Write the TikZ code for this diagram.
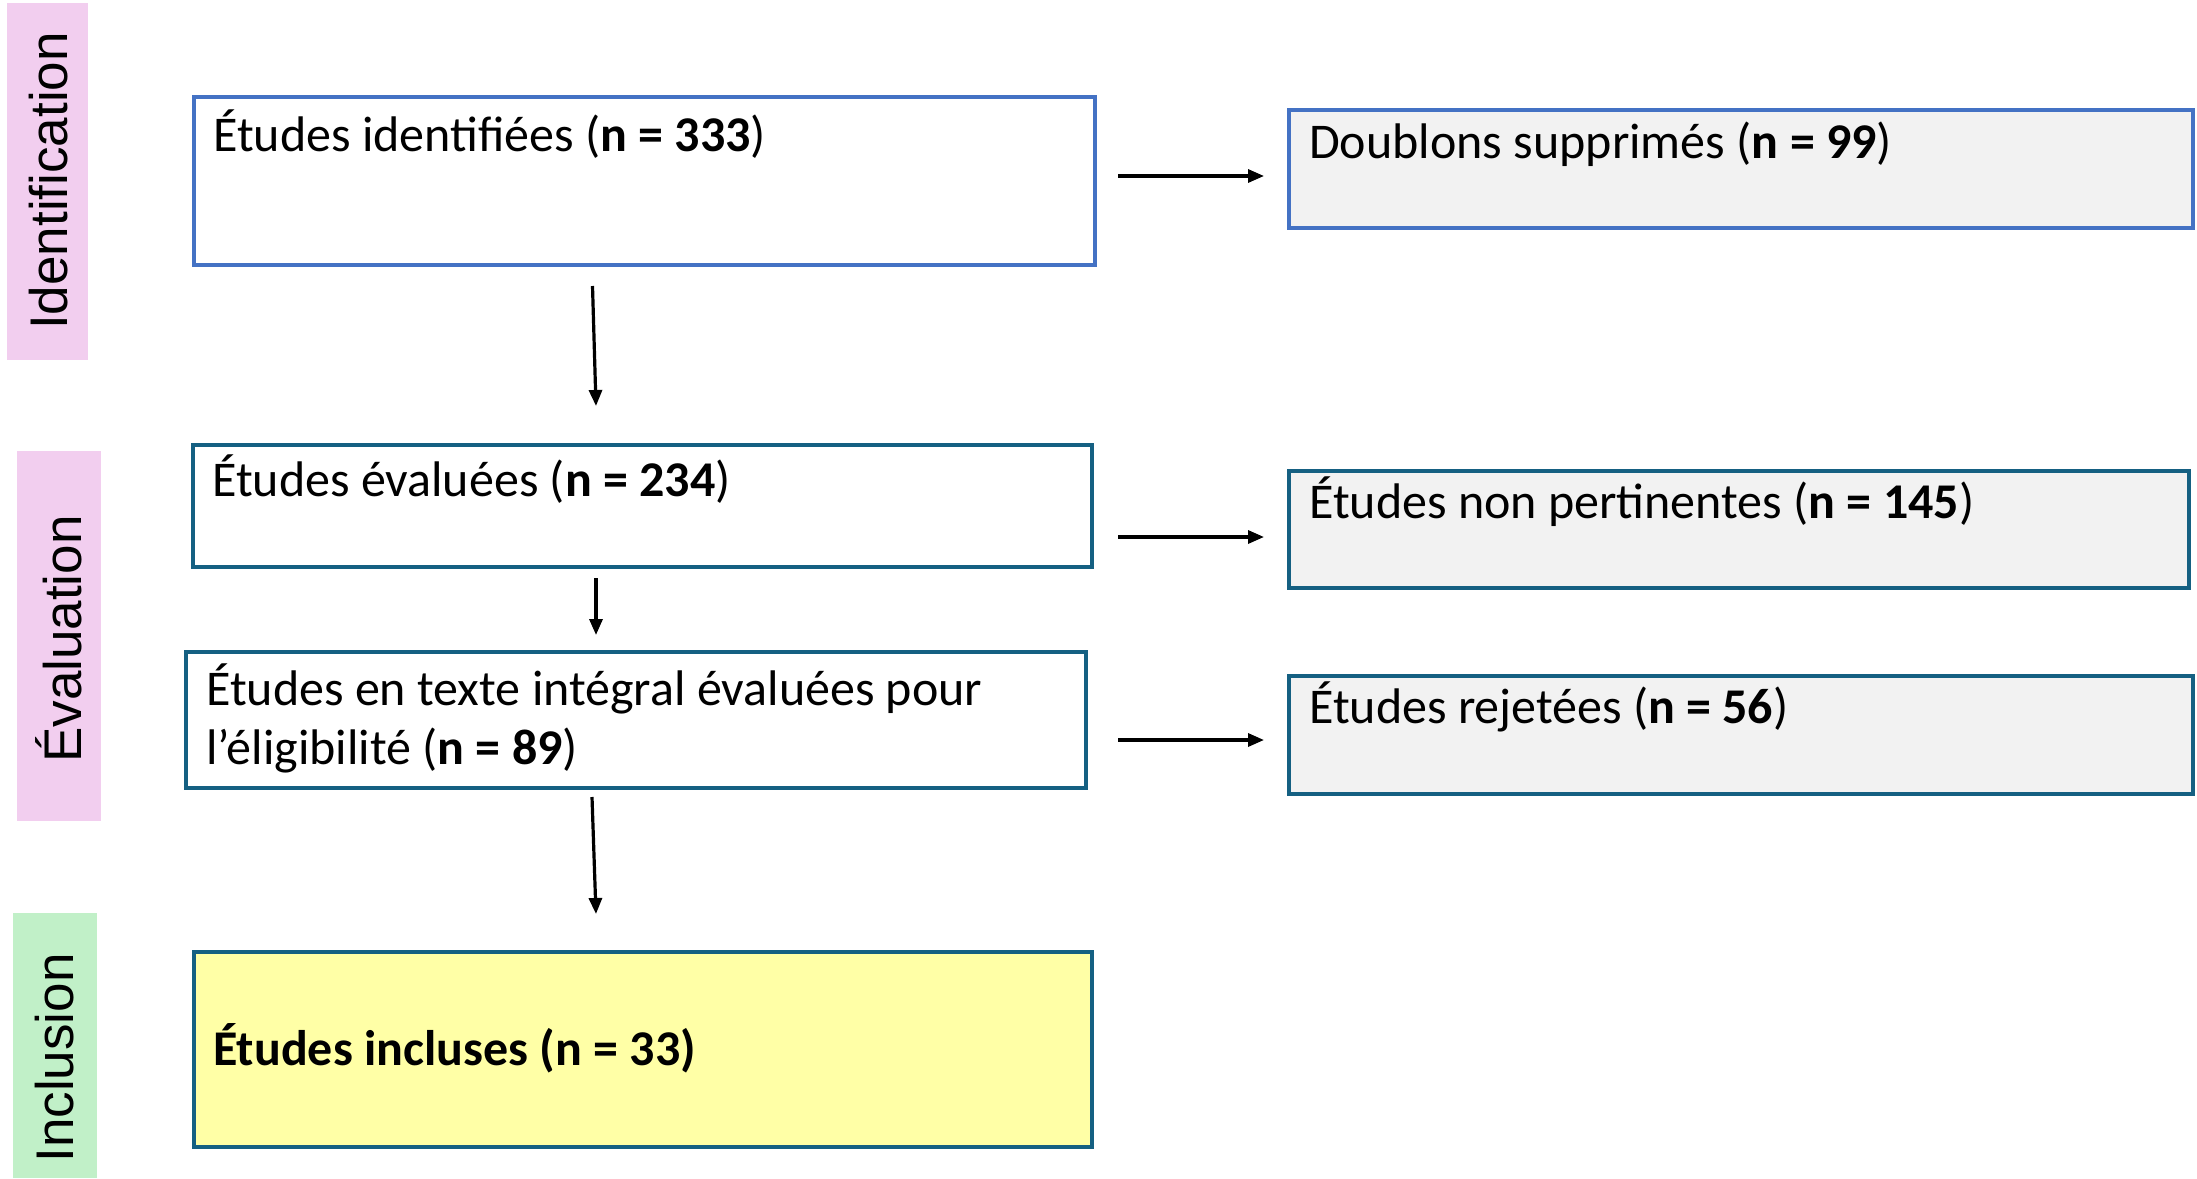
\documentclass[tikz,border=0pt]{standalone}
\usepackage{fontspec}
\setmainfont{Carlito}
\newfontfamily\bandfont{Liberation Sans}
\usetikzlibrary{arrows.meta}
\definecolor{bandpink}{HTML}{F2CEEF}
\definecolor{bandgreen}{HTML}{C1F0C8}
\definecolor{boxblue}{HTML}{4472C4}
\definecolor{boxteal}{HTML}{156082}
\definecolor{boxgray}{HTML}{F2F2F2}
\definecolor{boxyellow}{HTML}{FFFFA6}
\tikzset{
  band/.style={rectangle, inner sep=0pt, anchor=north west},
  bandlabel/.style={font=\bandfont\fontsize{53}{60}\selectfont, rotate=90, inner sep=0pt},
  mainbox/.style={rectangle, draw=boxteal, line width=4pt, fill=white, inner sep=0pt, anchor=north west},
  sidebox/.style={mainbox, fill=boxgray},
  boxtext/.style={font=\fontsize{50}{59}\selectfont, inner sep=0pt, anchor=base west},
  arr/.style={-{Triangle[length=16pt,width=13pt]}, line width=3.2pt, black},
}
\begin{document}
\begin{tikzpicture}[x=1pt,y=-1pt]
\useasboundingbox (0,0) rectangle (2197,1178);
% bands
\node[band, fill=bandpink, minimum width=81pt, minimum height=357pt] (bandA) at (7,3) {};
\node[band, fill=bandpink, minimum width=84pt, minimum height=370pt] (bandB) at (17,451) {};
\node[band, fill=bandgreen, minimum width=84pt, minimum height=265pt] (bandC) at (13,913) {};
\node[bandlabel] (labA) at (49,181) {Identification};
\node[bandlabel] (labB) at (59,639) {Évaluation};
\node[bandlabel] (labC) at (55,1058) {Inclusion};
% main boxes
\node[mainbox, draw=boxblue, minimum width=901pt, minimum height=168pt] (b1) at (192,95) {};
\node[mainbox, minimum width=899pt, minimum height=122pt] (b2) at (191,443) {};
\node[mainbox, minimum width=900pt, minimum height=136pt] (b3) at (184,650) {};
\node[mainbox, fill=boxyellow, minimum width=898pt, minimum height=195pt] (b4) at (192,950) {};
% side boxes
\node[sidebox, draw=boxblue, minimum width=904pt, minimum height=118pt] (r1) at (1287,108) {};
\node[sidebox, minimum width=900pt, minimum height=117pt] (r2) at (1287,469) {};
\node[sidebox, minimum width=904pt, minimum height=118pt] (r3) at (1287,674) {};
% texts
\node[boxtext] (t1) at (213,151) {Études identifiées (\textbf{n = 333})};
\node[boxtext] (t2) at (212,496) {Études évaluées (\textbf{n = 234})};
\node[boxtext] (t3) at (206,705) {\begin{tabular}[t]{@{}l@{}}Études en texte intégral évaluées pour\\l’éligibilité (\textbf{n = 89})\end{tabular}};
\node[boxtext] (t4) at (213,1065) {\textbf{Études incluses (n = 33)}};
\node[boxtext] (tr1) at (1309,158) {Doublons supprimés (\textbf{n = 99})};
\node[boxtext] (tr2) at (1309,518) {Études non pertinentes (\textbf{n = 145})};
\node[boxtext] (tr3) at (1309,723) {Études rejetées (\textbf{n = 56})};
% vertical arrows
\draw[arr] ([xshift=-52pt,yshift=-19pt]b1.south) -- ([xshift=-46.5pt,yshift=37pt]b2.north);
\draw[arr] ([xshift=-46.5pt,yshift=-9pt]b2.south) -- ([xshift=-40pt,yshift=15pt]b3.north);
\draw[arr] ([xshift=-44pt,yshift=-7pt]b3.south) -- ([xshift=-47pt,yshift=36pt]b4.north);
% horizontal arrows
\draw[arr] ([xshift=21pt,yshift=5pt]b1.east) coordinate (s1) -- ([xshift=-23pt]s1 -| r1.west);
\draw[arr] ([xshift=24pt,yshift=-31pt]b2.east) coordinate (s2) -- ([xshift=-23pt]s2 -| r2.west);
\draw[arr] ([xshift=30pt,yshift=-20pt]b3.east) coordinate (s3) -- ([xshift=-23pt]s3 -| r3.west);
\end{tikzpicture}
\end{document}
